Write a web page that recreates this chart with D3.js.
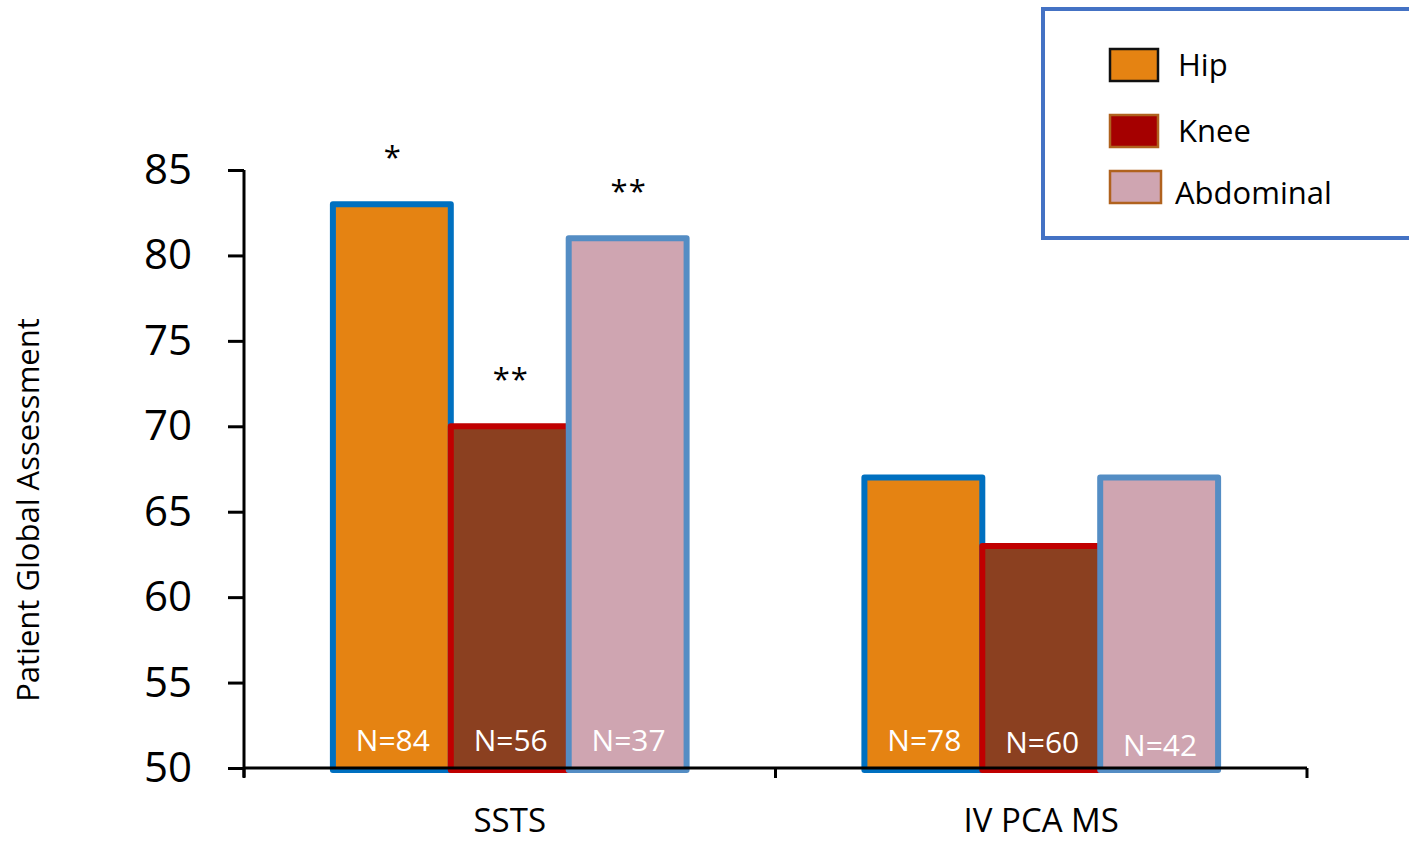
<!DOCTYPE html>
<html><head><meta charset="utf-8">
<script src="https://cdn.jsdelivr.net/npm/d3@7"></script>
<style>body{margin:0;background:#fff}svg{display:block}text{font-family:"Open Sans",sans-serif}</style>
</head><body><svg id="c" width="1409" height="842"></svg>
<script>
const categories = ["SSTS", "IV PCA MS"];
const seriesNames = ["Hip", "Knee", "Abdominal"];
const hipValues = [83, 67];
const kneeValues = [70, 63];
const abdominalValues = [81, 67];
const hipN = ["N=84", "N=78"];
const kneeN = ["N=56", "N=60"];
const abdominalN = ["N=37", "N=42"];
const significance = [["*", "**", "**"], ["", "", ""]];
const yTicks = [50, 55, 60, 65, 70, 75, 80, 85];
const yTitle = "Patient Global Assessment";

const fills = ["#E58312", "#8B4020", "#CFA5B1"];
const strokes = ["#0070C0", "#C00000", "#548DC4"];
const legendFills = ["#E58312", "#A50000", "#CFA5B1"];
const legendStrokes = ["#111111", "#B0621E", "#B0621E"];

const values = [hipValues, kneeValues, abdominalValues];
const ns = [hipN, kneeN, abdominalN];

const svg = d3.select("#c");
const x0 = d3.scaleBand().domain(categories).range([244, 1307]).paddingInner(0).paddingOuter(0);
const x1 = d3.scaleBand().domain(seriesNames).range([0, x0.bandwidth()]).paddingInner(0).paddingOuter(0.754);
const y = d3.scaleLinear().domain([50, 85]).range([768, 170]);

// bars
categories.forEach((cat, ci) => {
  const g = svg.append("g").attr("transform", `translate(${x0(cat)},0)`);
  seriesNames.forEach((s, si) => {
    const v = values[si][ci];
    g.append("rect")
      .attr("x", x1(s)).attr("y", y(v))
      .attr("width", x1.bandwidth()).attr("height", y(50) - y(v) + 2)
      .attr("fill", fills[si]).attr("stroke", strokes[si]).attr("stroke-width", 6)
      .attr("stroke-linejoin", "round");
    g.append("text")
      .attr("x", x1(s) + x1.bandwidth() / 2 + 1)
      .attr("y", y(50) - 17 + (ci === 1 && si === 2 ? 5 : (ci === 1 && si === 1 ? 2 : 0)))
      .attr("text-anchor", "middle").attr("fill", "#fff").style("font-size", "30px")
      .text(ns[si][ci]);
    const sig = significance[ci][si];
    if (sig) {
      g.append("text")
        .attr("x", x1(s) + x1.bandwidth() / 2 + 1)
        .attr("y", y(v) - 36)
        .attr("text-anchor", "middle").attr("fill", "#000").style("font-size", "31px")
        .attr("letter-spacing", 1)
        .text(sig);
    }
  });
});

// y axis
const yAxis = svg.append("g").attr("transform", "translate(244,0)")
  .call(d3.axisLeft(y).tickValues(yTicks).tickSize(16).tickPadding(36));
yAxis.select(".domain").attr("stroke", "#000").attr("stroke-width", 3)
  .attr("d", `M0,${y(85)}V${y(50) + 9}`);
yAxis.selectAll(".tick line").attr("stroke", "#000").attr("stroke-width", 3);
yAxis.selectAll(".tick text").style("font-size", "42px").attr("fill", "#000");

// x axis
const xAxisG = svg.append("g").attr("transform", `translate(0,${y(50)})`);
xAxisG.append("line").attr("x1", 244).attr("x2", 1307).attr("stroke", "#000").attr("stroke-width", 3);
const bounds = [244, ...categories.map(c => x0(c) + x0.bandwidth())];
xAxisG.selectAll(".xt").data(bounds).enter().append("line")
  .attr("x1", d => d).attr("x2", d => d).attr("y1", 0).attr("y2", 10)
  .attr("stroke", "#000").attr("stroke-width", 3);
xAxisG.selectAll(".xl").data(categories).enter().append("text")
  .attr("x", d => x0(d) + x0.bandwidth() / 2).attr("y", 64)
  .attr("text-anchor", "middle").style("font-size", "33px").attr("fill", "#000")
  .text(d => d);

// y title
svg.append("text").attr("transform", "translate(39,510) rotate(-90)")
  .attr("text-anchor", "middle").style("font-size", "31px").attr("fill", "#000").text(yTitle);

// legend
svg.append("rect").attr("x", 1043).attr("y", 9).attr("width", 400).attr("height", 229)
  .attr("fill", "#fff").attr("stroke", "#4472C4").attr("stroke-width", 4);
const ly = [64, 130, 186];
seriesNames.forEach((s, i) => {
  svg.append("rect").attr("x", 1110).attr("y", ly[i] - 15).attr("width", i === 2 ? 51 : 48).attr("height", 32)
    .attr("fill", legendFills[i]).attr("stroke", legendStrokes[i]).attr("stroke-width", 2.5);
  svg.append("text").attr("x", i === 2 ? 1175 : 1178).attr("y", ly[i] + 12 + (i === 2 ? 6 : 0))
    .style("font-size", "31px").attr("fill", "#000").text(s);
});
</script></body></html>
